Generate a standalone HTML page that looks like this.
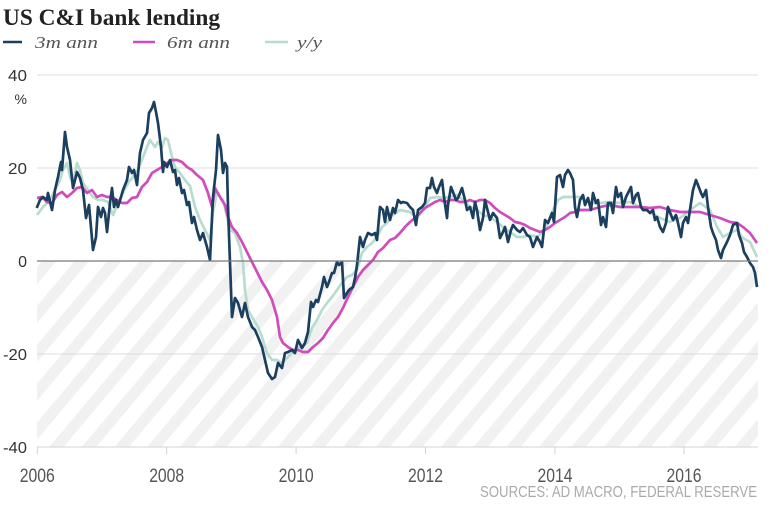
<!DOCTYPE html>
<html>
<head>
<meta charset="utf-8">
<style>
html,body{margin:0;padding:0;background:#fff;}
body{width:771px;height:511px;overflow:hidden;}
svg{display:block;}
</style>
</head>
<body>
<svg width="771" height="511" viewBox="0 0 771 511" xmlns="http://www.w3.org/2000/svg">
<defs>
<pattern id="hatch" patternUnits="userSpaceOnUse" width="25" height="25" patternTransform="rotate(40)">
<rect x="0" y="0" width="25" height="25" fill="#ffffff"/>
<rect x="0" y="0" width="11" height="25" fill="#f1f1f1"/>
</pattern>
</defs>
<rect x="0" y="0" width="771" height="511" fill="#fff"/>

<!-- title -->
<text x="3" y="25" font-family="Liberation Serif, serif" font-weight="bold" font-size="23" fill="#222" textLength="217" lengthAdjust="spacingAndGlyphs">US C&amp;I bank lending</text>

<!-- legend -->
<line x1="3" y1="42" x2="22" y2="42" stroke="#1b3f5e" stroke-width="2.5"/>
<text x="35" y="48" font-family="Liberation Serif, serif" font-style="italic" font-size="17" fill="#555" textLength="63" lengthAdjust="spacingAndGlyphs">3m ann</text>
<line x1="133" y1="42" x2="155" y2="42" stroke="#d04cbc" stroke-width="2.5"/>
<text x="167" y="48" font-family="Liberation Serif, serif" font-style="italic" font-size="17" fill="#555" textLength="63" lengthAdjust="spacingAndGlyphs">6m ann</text>
<line x1="265" y1="42" x2="288" y2="42" stroke="#b8dccf" stroke-width="2.5"/>
<text x="297" y="48" font-family="Liberation Serif, serif" font-style="italic" font-size="17" fill="#555" textLength="25" lengthAdjust="spacingAndGlyphs">y/y</text>

<!-- hatch area -->
<rect x="37" y="261" width="721" height="186" fill="url(#hatch)"/>

<!-- grid -->
<line x1="37" y1="75" x2="758" y2="75" stroke="#dcdcdc" stroke-width="1"/>
<line x1="37" y1="168" x2="758" y2="168" stroke="#dcdcdc" stroke-width="1"/>
<line x1="37" y1="354" x2="758" y2="354" stroke="#dcdcdc" stroke-width="1"/>
<line x1="37" y1="447" x2="758" y2="447" stroke="#dcdcdc" stroke-width="1.2"/>

<!-- x ticks -->
<g stroke="#d0d0d0" stroke-width="1">
<line x1="37.3" y1="447" x2="37.3" y2="454"/>
<line x1="166.7" y1="447" x2="166.7" y2="454"/>
<line x1="296.1" y1="447" x2="296.1" y2="454"/>
<line x1="425.5" y1="447" x2="425.5" y2="454"/>
<line x1="555" y1="447" x2="555" y2="454"/>
<line x1="684" y1="447" x2="684" y2="454"/>
</g>

<!-- y labels -->
<g font-family="Liberation Sans, sans-serif" font-size="16" fill="#333" text-anchor="end">
<text x="27" y="81" textLength="19" lengthAdjust="spacingAndGlyphs">40</text>
<text x="27" y="104" font-size="14">%</text>
<text x="27" y="174" textLength="19" lengthAdjust="spacingAndGlyphs">20</text>
<text x="27" y="267">0</text>
<text x="27" y="360" textLength="24" lengthAdjust="spacingAndGlyphs">-20</text>
<text x="27" y="453" textLength="24" lengthAdjust="spacingAndGlyphs">-40</text>
</g>

<!-- x labels -->
<g font-family="Liberation Sans, sans-serif" font-size="19" fill="#555">
<text x="19.8" y="482" textLength="35" lengthAdjust="spacingAndGlyphs">2006</text>
<text x="149.2" y="482" textLength="35" lengthAdjust="spacingAndGlyphs">2008</text>
<text x="278.6" y="482" textLength="35" lengthAdjust="spacingAndGlyphs">2010</text>
<text x="408" y="482" textLength="35" lengthAdjust="spacingAndGlyphs">2012</text>
<text x="537.5" y="482" textLength="35" lengthAdjust="spacingAndGlyphs">2014</text>
<text x="666.5" y="482" textLength="35" lengthAdjust="spacingAndGlyphs">2016</text>
</g>

<!-- source -->
<text x="480" y="497" font-family="Liberation Sans, sans-serif" font-size="16" fill="#aaa" textLength="277" lengthAdjust="spacingAndGlyphs">SOURCES: AD MACRO, FEDERAL RESERVE</text>

<!-- y/y series -->
<polyline fill="none" stroke="#b8dccf" stroke-width="2.7" stroke-linejoin="round" points="37,215 43,207 50,200 55,190 60,180 63,170 67,163 70,177 73,183 77,163 80,170 83,183 88,190 93,197 98,200 103,200 108,202 113,215 118,203 123,193 128,183 133,177 138,170 143,157 147,147 150,140 155,147 158,142 162,147 165,138 168,140 172,157 175,167 180,173 185,180 190,186 195,207 200,220 205,230 210,240 213,212 217,192 220,197 223,200 227,217 230,230 235,233 240,247 243,263 245,290 248,310 252,317 255,322 258,327 262,337 267,353 272,360 277,360 282,363 287,358 292,353 297,348 302,347 307,343 312,328 317,320 322,310 327,303 332,297 337,290 342,283 347,277 352,275 357,270 362,253 367,247 372,243 377,237 382,227 387,223 390,217 400,210 410,212 417,218 423,210 430,198 437,197 443,198 450,197 457,195 463,200 470,207 477,210 483,215 490,217 497,222 503,227 510,232 517,237 523,237 530,235 537,237 543,232 548,223 553,210 558,200 563,197 570,197 580,197 590,203 600,203 610,202 620,203 630,202 640,207 650,212 660,218 670,222 680,218 690,210 700,203 710,210 717,227 723,237 730,233 737,230 743,238 750,242 757,257"/>

<!-- 6m ann series -->
<polyline fill="none" stroke="#d04cbc" stroke-width="2.7" stroke-linejoin="round" points="37,198 42,197 47,202 52,203 57,195 62,192 67,197 72,193 77,188 82,187 87,193 92,190 97,197 102,195 107,197 112,197 117,200 122,203 127,203 132,198 137,197 142,187 147,182 152,173 157,170 162,167 167,163 172,160 177,160 182,162 187,167 192,170 197,175 203,180 208,193 212,207 215,188 220,197 225,205 228,217 232,227 237,233 242,242 247,252 252,262 257,272 262,282 267,290 272,300 277,317 280,337 283,343 288,347 293,350 298,350 303,352 308,352 313,347 318,343 323,338 328,330 333,323 338,317 343,308 348,297 353,287 358,277 363,270 368,265 373,260 378,252 383,248 390,240 395,238 400,233 405,227 410,222 415,218 420,213 425,208 430,205 435,202 440,200 445,202 450,200 455,200 460,202 465,202 470,200 475,202 480,200 485,200 490,203 495,208 500,212 505,215 510,218 515,222 520,223 525,225 530,228 535,230 540,232 545,230 550,227 555,223 560,220 565,217 570,213 575,212 580,210 590,210 600,207 610,205 620,207 630,207 640,207 650,208 660,207 670,210 680,212 690,212 700,212 710,215 720,218 730,222 737,223 743,227 750,233 757,243"/>

<!-- 3m ann series -->
<polyline fill="none" stroke="#1b3f5e" stroke-width="2.7" stroke-linejoin="round" points="36.7,208 40,200 43,197 47,200 48,193 52,210 55,190 58,177 61,162 62,170 65,132 67,147 70,160 73,188 77,172 80,178 83,190 86,218 89,205 93,250 96,237 98,207 101,217 103,208 105,213 107,232 110,203 112,188 114,207 116,200 118,207 121,197 123,190 127,180 129,167 132,173 134,170 137,185 140,153 143,140 147,133 149,113 152,108 154,102 156,112 158,123 161,147 163,172 164,162 167,167 170,160 173,172 175,170 177,185 179,178 182,193 184,190 187,205 189,202 192,223 194,217 197,230 200,240 203,233 207,247 210,260 213,197 216,170 218,135 221,150 223,173 225,163 227,167 228,207 230,263 232,317 235,298 238,303 242,317 245,303 248,317 252,327 255,330 258,337 262,347 265,360 268,373 272,379 275,377 278,363 282,368 285,353 288,352 292,350 295,353 298,340 302,348 305,343 308,332 311,302 313,307 316,300 318,302 322,287 324,277 327,287 329,282 332,273 334,273 337,262 339,265 342,262 344,298 347,293 349,290 353,287 355,278 357,265 360,237 363,247 365,240 368,233 372,235 375,233 377,240 380,207 383,210 385,222 387,207 390,220 393,208 395,213 398,200 401,203 403,202 407,203 410,207 413,210 416,225 418,210 422,207 425,203 427,188 430,188 432,178 434,187 437,193 439,187 442,180 444,197 447,218 448,205 451,187 453,192 456,200 458,198 462,188 465,200 467,210 470,207 473,218 475,202 477,210 480,230 483,218 485,200 487,208 490,220 493,213 497,218 500,238 503,232 505,227 508,242 511,230 513,225 517,230 520,232 523,228 527,235 530,237 533,247 537,237 540,242 542,247 545,220 548,223 552,213 554,222 557,177 560,175 563,187 565,175 568,170 570,173 573,180 575,207 577,217 580,200 583,195 585,205 588,198 591,210 593,193 596,203 598,200 601,225 603,217 606,227 608,203 611,203 613,213 616,187 618,197 621,193 623,207 626,197 628,193 631,187 633,203 636,195 638,193 641,207 643,210 647,210 650,213 653,210 655,220 657,217 660,227 663,232 666,223 668,207 671,215 673,220 676,215 678,223 681,237 683,223 686,217 688,223 691,203 693,190 696,180 698,185 701,193 703,197 706,190 708,207 711,227 713,233 716,240 718,250 721,258 723,250 727,242 730,235 733,225 737,223 739,235 742,243 744,252 747,257 750,263 753,267 755,273 757,287"/>

<!-- zero line on top -->
<line x1="37" y1="261" x2="758" y2="261" stroke="#7a7a7a" stroke-width="1.3"/>
</svg>
</body>
</html>
